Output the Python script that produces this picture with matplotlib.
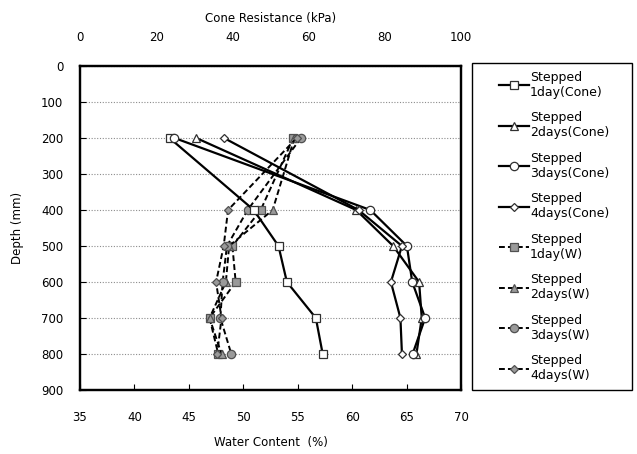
import matplotlib.pyplot as plt
from matplotlib.patches import Rectangle

# depth of each measurement (mm)
depth = [200, 400, 500, 600, 700, 800]

# cone resistance (kPa), top axis
cone_1day = [23.5, 45.6, 52.1, 54.3, 61.9, 63.7]
cone_2days = [30.5, 72.5, 82.2, 89.0, 89.7, 88.3]
cone_3days = [24.8, 76.2, 85.8, 87.2, 90.6, 87.3]
cone_4days = [37.8, 73.1, 84.5, 81.6, 84.1, 84.5]

# water content (%), bottom axis
w_1day = [54.6, 51.6, 49.0, 49.3, 46.9, 47.7]
w_2days = [54.7, 52.7, 48.7, 48.4, 46.9, 48.0]
w_3days = [55.3, 50.4, 48.5, 48.1, 47.9, 48.9]
w_4days = [54.9, 48.6, 48.2, 47.5, 48.0, 47.6]

labels_cone = ['Stepped\n1day(Cone)', 'Stepped\n2days(Cone)',
               'Stepped\n3days(Cone)', 'Stepped\n4days(Cone)']
labels_w = ['Stepped\n1day(W)', 'Stepped\n2days(W)',
            'Stepped\n3days(W)', 'Stepped\n4days(W)']

plt.rcParams['font.family'] = ['DejaVu Sans']

fig = plt.figure(figsize=(6.37, 4.54), dpi=100)
ax = fig.add_axes([80 / 637, 1 - 390 / 454, 381 / 637, 324 / 454])
ax2 = ax.twiny()

markers = ['s', '^', 'o', 'D']
msizes = [5.5, 5.5, 6, 4.2]

handles = []
for vals, m, ms, lab in zip([w_1day, w_2days, w_3days, w_4days], markers, msizes, labels_w):
    h, = ax.plot(vals, depth, color='black', linestyle=(0, (3, 1.6)), linewidth=1.4,
                 marker=m, markersize=ms, markerfacecolor='#9a9a9a',
                 markeredgecolor='#505050', markeredgewidth=0.9, label=lab)
    handles.append(h)

cone_handles = []
for vals, m, ms, lab in zip([cone_1day, cone_2days, cone_3days, cone_4days], markers, msizes, labels_cone):
    h, = ax2.plot(vals, depth, color='black', linestyle='-', linewidth=1.6,
                  marker=m, markersize=ms, markerfacecolor='white',
                  markeredgecolor='#303030', markeredgewidth=0.9, label=lab)
    cone_handles.append(h)

ax.set_xlim(35, 70)
ax.set_xticks(range(35, 71, 5))
ax.set_ylim(900, 0)
ax.set_yticks(range(0, 901, 100))
ax2.set_xlim(0, 100)
ax2.set_xticks(range(0, 101, 20))

ax.yaxis.grid(True, linestyle=(0, (1, 1.5)), color='#8c8c8c', linewidth=0.8)
ax.set_axisbelow(True)

for a in (ax, ax2):
    for s in a.spines.values():
        s.set_linewidth(1.6)

ax.tick_params(axis='x', direction='in', length=4, pad=15, labelsize=8.5)
ax.tick_params(axis='y', direction='in', length=4, pad=12, labelsize=8.5)
ax2.tick_params(axis='x', direction='in', length=0, pad=16, labelsize=8.5)

ax.set_xlabel('Water Content  (%)', fontsize=8.5, labelpad=9)
ax.set_ylabel('Depth (mm)', fontsize=8.5, labelpad=12)
ax2.set_xlabel('Cone Resistance (kPa)', fontsize=8.5, labelpad=6)

# legend box to the right of the plot
x0, y0, x1, y1 = 472 / 637, 1 - 390 / 454, 632 / 637, 1 - 63 / 454
fig.patches.append(Rectangle((x0, y0), x1 - x0, y1 - y0, transform=fig.transFigure,
                             fill=False, edgecolor='black', linewidth=1.0))
fig.legend(cone_handles + handles, labels_cone + labels_w, loc='center',
           bbox_to_anchor=((x0 + x1) / 2 + 0.003, (y0 + y1) / 2), frameon=False,
           fontsize=9, handlelength=2.4, handletextpad=0.1, labelspacing=1.0)

fig.savefig('out.png', dpi=100)
